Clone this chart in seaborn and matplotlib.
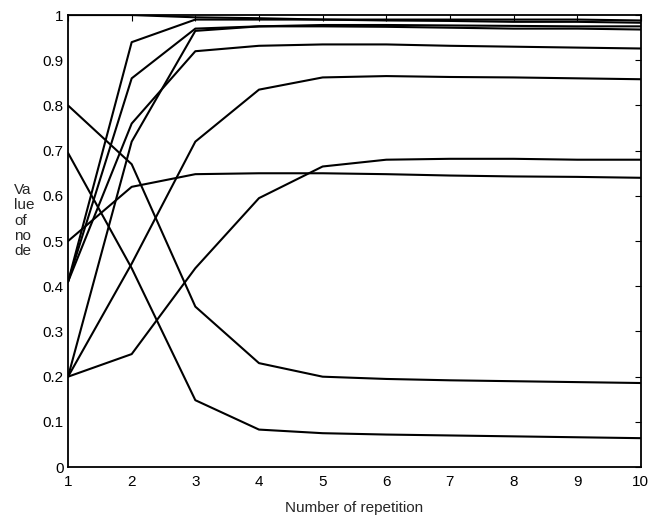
import matplotlib
matplotlib.use("Agg")
import matplotlib.pyplot as plt
import seaborn as sns

# repetition index
reps = [1, 2, 3, 4, 5, 6, 7, 8, 9, 10]

# node values per repetition
node_a = [1.00, 1.00, 0.995, 0.993, 0.99, 0.99, 0.99, 0.99, 0.99, 0.988]
node_b = [0.41, 0.94, 0.99, 0.99, 0.99, 0.988, 0.987, 0.985, 0.985, 0.983]
node_c = [0.41, 0.86, 0.97, 0.975, 0.978, 0.978, 0.977, 0.976, 0.975, 0.975]
node_d = [0.41, 0.76, 0.92, 0.932, 0.935, 0.935, 0.932, 0.93, 0.928, 0.926]
node_e = [0.20, 0.72, 0.965, 0.975, 0.975, 0.974, 0.972, 0.97, 0.97, 0.968]
node_f = [0.20, 0.45, 0.72, 0.835, 0.862, 0.865, 0.863, 0.862, 0.86, 0.858]
node_g = [0.20, 0.25, 0.44, 0.595, 0.665, 0.68, 0.682, 0.682, 0.68, 0.68]
node_h = [0.50, 0.62, 0.648, 0.65, 0.65, 0.648, 0.645, 0.643, 0.642, 0.64]
node_i = [0.80, 0.67, 0.355, 0.23, 0.20, 0.195, 0.192, 0.19, 0.188, 0.186]
node_j = [0.695, 0.44, 0.148, 0.083, 0.075, 0.072, 0.07, 0.068, 0.066, 0.064]

all_nodes = [node_a, node_b, node_c, node_d, node_e,
             node_f, node_g, node_h, node_i, node_j]

ytick_vals = [0, 0.1, 0.2, 0.3, 0.4, 0.5, 0.6, 0.7, 0.8, 0.9, 1]
ytick_labels = ["0", "0.1", "0.2", "0.3", "0.4", "0.5", "0.6", "0.7", "0.8", "0.9", "1"]

sns.set_style("white")
plt.rcParams['font.family'] = ['Liberation Sans', 'DejaVu Sans']

fig = plt.figure(figsize=(6.48, 5.19), dpi=100)
ax = fig.add_axes([0.105, 0.100, 0.884, 0.871])

for vals in all_nodes:
    sns.lineplot(x=reps, y=vals, color='black', linewidth=1.5, ax=ax)

ax.set_xlim(1, 10)
ax.set_ylim(0, 1)
ax.set_xticks(reps)
ax.set_yticks(ytick_vals)
ax.set_yticklabels(ytick_labels)
ax.tick_params(direction='in', top=True, right=True, length=4,
               labelsize=11, colors='black', pad=3)
ax.tick_params(axis='x', pad=6)
for sp in ax.spines.values():
    sp.set_visible(True)
    sp.set_color('black')
    sp.set_linewidth(1.3)

ax.set_xlabel("Number of repetition", fontsize=11, labelpad=8)
fig.text(0.022, 0.575, "Va\nlue\nof\nno\nde", fontsize=11,
         ha='left', va='center', linespacing=1.1)

fig.savefig("out.png", dpi=100)
